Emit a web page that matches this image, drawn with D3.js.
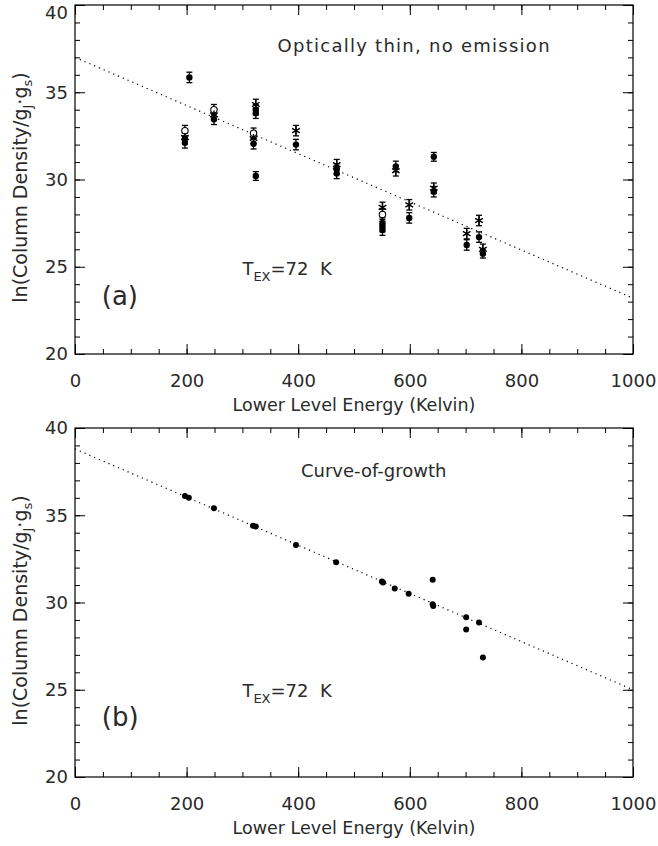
<!DOCTYPE html>
<html>
<head>
<meta charset="utf-8">
<script src="https://cdn.jsdelivr.net/npm/d3@7"></script>
<style>
  body { margin: 0; background: #fff; }
  text { font-family: "DejaVu Sans", sans-serif; fill: #2a2a2a; white-space: pre; }
</style>
</head>
<body>
<div id="container"></div>
<script>
let w = 658;
let h = 846;

// DATA (energy in K, ln N/g, error)
// panel (a): optically thin, three symbol types
let thinFilled = [
  [205, 35.85, 0.3], [197, 32.35, 0.3], [197, 32.1, 0.3],
  [249, 33.45, 0.3], [324, 34.0, 0.3], [324, 33.8, 0.3],
  [320, 32.05, 0.3], [324, 30.2, 0.25], [396, 32.0, 0.3],
  [469, 30.6, 0.3], [469, 30.35, 0.3], [575, 30.75, 0.3],
  [551, 27.5, 0.3], [551, 27.3, 0.3], [551, 27.1, 0.3],
  [599, 27.8, 0.3], [643, 31.3, 0.25], [643, 29.3, 0.3],
  [702, 26.25, 0.3], [724, 26.7, 0.3], [731, 25.75, 0.25]
];
let thinOpen = [
  [197, 32.8, 0.3], [249, 34.0, 0.3], [320, 32.65, 0.3], [551, 28.0, 0.3]
];
let thinStar = [
  [197, 32.4, 0.3], [249, 33.7, 0.3], [324, 34.3, 0.3], [320, 32.35, 0.3],
  [396, 32.8, 0.3], [469, 30.85, 0.3], [575, 30.5, 0.3], [551, 28.4, 0.3],
  [599, 28.55, 0.3], [643, 29.5, 0.3], [702, 26.9, 0.3], [724, 27.65, 0.3],
  [731, 26.0, 0.3]
];
// panel (b): curve-of-growth
let cogPoints = [
  [197, 36.1], [204, 36.0], [249, 35.4], [319, 34.4], [324, 34.35],
  [396, 33.3], [468, 32.3], [550, 31.2], [552, 31.15], [573, 30.8],
  [598, 30.5], [641, 31.3], [641, 29.9], [642, 29.8], [701, 29.15],
  [701, 28.45], [724, 28.85], [731, 26.85]
];
// fitted lines (T_ex = 72 K)
let fitA = [[0, 37.0], [1000, 23.2]];
let fitB = [[0, 38.8], [1000, 25.0]];

let xTicks = [0, 200, 400, 600, 800, 1000];
let yTicks = [20, 25, 30, 35, 40];
let xMinor = d3.range(0, 1001, 50);
let yMinor = d3.range(20, 41, 1);

// SVG
let viz = d3.select("#container").append("svg")
    .attr("width", w)
    .attr("height", h);

let left = 75, right = 633, plotH = 349;
let x = d3.scaleLinear().domain([0, 1000]).range([left, right]);

function drawPanel(top, cfg) {
  let y = d3.scaleLinear().domain([20, 40]).range([top + plotH, top]);
  let g = viz.append("g");

  // minor ticks on all four sides
  let bottom = top + plotH;
  g.append("g").attr("transform", `translate(0,${bottom})`)
    .call(d3.axisBottom(x).tickValues(xMinor).tickSizeInner(-5).tickSizeOuter(0).tickFormat(""));
  g.append("g").attr("transform", `translate(0,${top})`)
    .call(d3.axisTop(x).tickValues(xMinor).tickSizeInner(-5).tickSizeOuter(0).tickFormat(""));
  g.append("g").attr("transform", `translate(${left},0)`)
    .call(d3.axisLeft(y).tickValues(yMinor).tickSizeInner(-5).tickSizeOuter(0).tickFormat(""));
  g.append("g").attr("transform", `translate(${right},0)`)
    .call(d3.axisRight(y).tickValues(yMinor).tickSizeInner(-5).tickSizeOuter(0).tickFormat(""));

  // major ticks
  g.append("g").attr("transform", `translate(0,${bottom})`)
    .call(d3.axisBottom(x).tickValues(xTicks).tickFormat(d3.format("d"))
      .tickSizeInner(-10).tickSizeOuter(0).tickPadding(20));
  g.append("g").attr("transform", `translate(0,${top})`)
    .call(d3.axisTop(x).tickValues(xTicks).tickSizeInner(-10).tickSizeOuter(0).tickFormat(""));
  let yax = g.append("g").attr("transform", `translate(${left},0)`)
    .call(d3.axisLeft(y).tickValues(yTicks).tickSizeInner(-10).tickSizeOuter(0).tickPadding(7));
  g.append("g").attr("transform", `translate(${right},0)`)
    .call(d3.axisRight(y).tickValues(yTicks).tickSizeInner(-10).tickSizeOuter(0).tickFormat(""));

  g.selectAll(".domain").remove();
  g.selectAll(".tick line").attr("stroke", "#000").attr("stroke-width", 1);
  g.selectAll(".tick text").style("font-family", "DejaVu Sans").style("font-size", "18px").attr("fill", "#2a2a2a");
  // keep the top label inside the page
  yax.selectAll(".tick text").filter(d => y(d) < 10).attr("y", 8);

  // frame
  g.append("rect").attr("x", left).attr("y", top).attr("width", right - left).attr("height", plotH)
    .attr("fill", "none").attr("stroke", "#000").attr("stroke-width", 1.2);

  // axis titles
  g.append("text").attr("x", (left + right) / 2).attr("y", bottom + 57)
    .attr("text-anchor", "middle").style("font-size", "17.5px")
    .text("Lower Level Energy (Kelvin)");
  let yt = g.append("text")
    .attr("transform", `translate(27,${top + plotH / 2 + 8}) rotate(-90)`)
    .attr("text-anchor", "middle").style("font-size", "19px");
  yt.append("tspan").text("ln(Column Density/g");
  yt.append("tspan").attr("dy", 5).style("font-size", "13px").text("J");
  yt.append("tspan").attr("dy", -5).text("·g");
  yt.append("tspan").attr("dy", 5).style("font-size", "13px").text("s");
  yt.append("tspan").attr("dy", -5).text(")");

  // fit line
  let line = d3.line().x(d => x(d[0])).y(d => y(d[1]));
  g.append("path").datum(cfg.fit).attr("d", line)
    .attr("fill", "none").attr("stroke", "#000").attr("stroke-width", 1.2)
    .attr("stroke-dasharray", "1.2,4");

  // labels
  let tt = g.append("text").attr("x", x(cfg.titlePos[0])).attr("y", y(cfg.titlePos[1]))
    .style("font-size", "18px").text(cfg.title);
  if (cfg.titleLen) tt.attr("textLength", cfg.titleLen).attr("lengthAdjust", "spacing");
  let te = g.append("text").attr("x", x(300)).attr("y", y(cfg.texY)).style("font-size", "18px");
  te.append("tspan").text("T");
  te.append("tspan").attr("dy", 6).style("font-size", "13px").text("EX");
  te.append("tspan").attr("dy", -6).text("=72  K");
  g.append("text").attr("x", x(48)).attr("y", y(cfg.tagY)).style("font-size", "26px").text(cfg.tag);

  return {g: g, y: y};
}

// PANEL (a)
let pa = drawPanel(5, {fit: fitA, title: "Optically thin, no emission", titlePos: [363, 37.3],
                        titleLen: 272, texY: 24.5, tag: "(a)", tagY: 22.8});
let ya = pa.y;
let allThin = thinFilled.concat(thinOpen, thinStar);
let errs = pa.g.append("g").selectAll("g").data(allThin).enter().append("g")
    .attr("stroke", "#000").attr("stroke-width", 1.3);
errs.append("line")
    .attr("x1", d => x(d[0])).attr("x2", d => x(d[0]))
    .attr("y1", d => ya(d[1] + d[2])).attr("y2", d => ya(d[1] - d[2]));
errs.append("line")
    .attr("x1", d => x(d[0]) - 3).attr("x2", d => x(d[0]) + 3)
    .attr("y1", d => ya(d[1] + d[2])).attr("y2", d => ya(d[1] + d[2]));
errs.append("line")
    .attr("x1", d => x(d[0]) - 3).attr("x2", d => x(d[0]) + 3)
    .attr("y1", d => ya(d[1] - d[2])).attr("y2", d => ya(d[1] - d[2]));

pa.g.append("g").selectAll("circle").data(thinOpen).enter().append("circle")
    .attr("cx", d => x(d[0])).attr("cy", d => ya(d[1])).attr("r", 3.2)
    .attr("fill", "#fff").attr("stroke", "#000").attr("stroke-width", 1.1);

let star = d3.symbol().type(d3.symbolAsterisk).size(55);
pa.g.append("g").selectAll("path").data(thinStar).enter().append("path")
    .attr("d", star)
    .attr("transform", d => `translate(${x(d[0])},${ya(d[1])})`)
    .attr("fill", "none").attr("stroke", "#000").attr("stroke-width", 1.4);

pa.g.append("g").selectAll("circle").data(thinFilled).enter().append("circle")
    .attr("cx", d => x(d[0])).attr("cy", d => ya(d[1])).attr("r", 3.2)
    .attr("fill", "#000");

// PANEL (b)
let pb = drawPanel(428, {fit: fitB, title: "Curve-of-growth", titlePos: [405, 37.2],
                          texY: 24.6, tag: "(b)", tagY: 22.9});
pb.g.append("g").selectAll("circle").data(cogPoints).enter().append("circle")
    .attr("cx", d => x(d[0])).attr("cy", d => pb.y(d[1])).attr("r", 3)
    .attr("fill", "#000");
</script>
</body>
</html>
